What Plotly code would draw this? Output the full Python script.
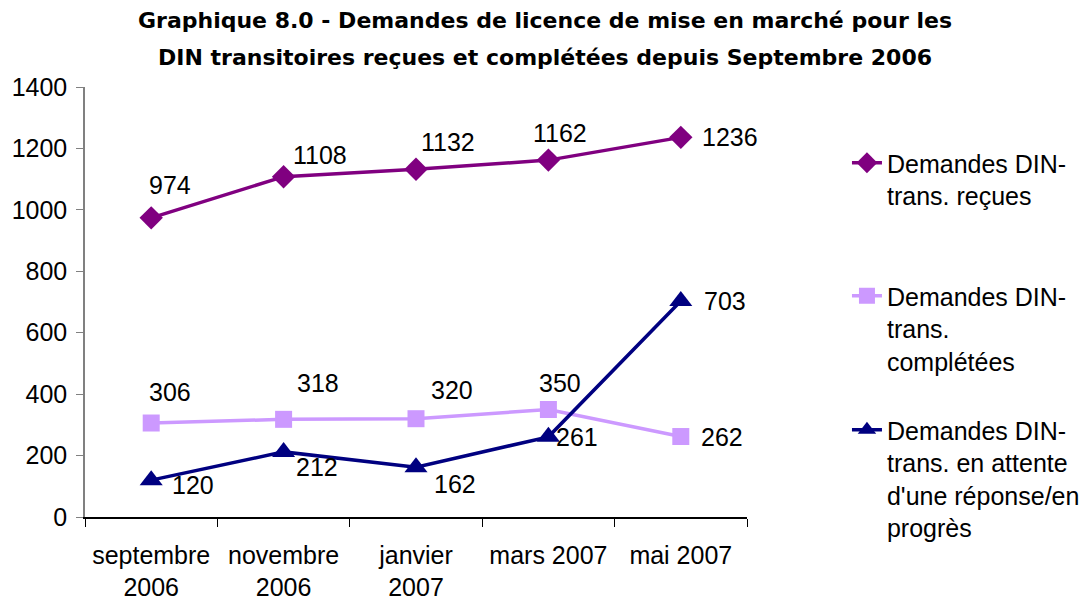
import plotly.graph_objects as go

months = ["septembre<br>2006", "novembre<br>2006", "janvier<br>2007", "mars 2007", "mai 2007"]
recues = [974, 1108, 1132, 1162, 1236]
completees = [306, 318, 320, 350, 262]
en_attente = [120, 212, 162, 261, 703]

names = [
    "Demandes DIN-<br>trans. reçues",
    "Demandes DIN-<br>trans.<br>complétées",
    "Demandes DIN-<br>trans. en attente<br>d'une réponse/en<br>progrès",
]

# label offsets (px) from each point, per series
offs_recues = [(19, -33), (36, -22), (32, -27), (12, -27), (49, 0)]
offs_compl = [(19, -31), (34, -36), (36, -29), (12, -27), (41, 0)]
offs_attente = [(42, 5), (33, 15), (39, 17), (29, 0), (44, 0)]

FONT = "Liberation Sans, Arial, sans-serif"
FS = 25
# page body adds ~8px offset, compensate in margins
L, T, R, B = 77, 79, 352.5, 92

fig = go.Figure()

series = [
    (recues, names[0], "#800080", "diamond", 18, "legend"),
    (completees, names[1], "#CC99FF", "square", 17, "legend2"),
    (en_attente, names[2], "#000080", "triangle-up", 20, "legend3"),
]
for vals, name, color, sym, size, leg in series:
    fig.add_trace(go.Scatter(
        x=months, y=vals, name=name, mode="lines+markers",
        line=dict(color=color, width=3.5),
        marker=dict(symbol=sym, size=size, color=color),
        legend=leg, showlegend=True))

for vals, offs in [(recues, offs_recues), (completees, offs_compl), (en_attente, offs_attente)]:
    for m, v, (dx, dy) in zip(months, vals, offs):
        fig.add_annotation(x=m, y=v, text=str(v), showarrow=False,
                           xshift=dx, yshift=-dy,
                           font=dict(family=FONT, size=FS, color="black"))

TFONT = dict(family="DejaVu Sans", size=22, color="black")
fig.add_annotation(xref="paper", yref="paper", x=(545 - 85) / 662.5, y=(517 - 21) / 430,
                   xanchor="center", yanchor="middle",
                   text="<b>Graphique 8.0 - Demandes de licence de mise en marché pour les</b>",
                   showarrow=False, font=TFONT)
fig.add_annotation(xref="paper", yref="paper", x=(545 - 85) / 662.5, y=(517 - 58) / 430,
                   xanchor="center", yanchor="middle",
                   text="<b>DIN transitoires reçues et complétées depuis Septembre 2006</b>",
                   showarrow=False, font=TFONT)

leg_common = dict(x=1.151, xanchor="left", yanchor="top", valign="top",
                  font=dict(family=FONT, size=FS, color="black"),
                  bgcolor="rgba(0,0,0,0)")
fig.update_layout(
    showlegend=True,
    legend=dict(y=(517 - 140) / 430, **leg_common),
    legend2=dict(y=(517 - 273) / 430, **leg_common),
    legend3=dict(y=(517 - 407) / 430, **leg_common),
)

fig.update_layout(
    width=1092, height=601,
    margin=dict(l=L, r=R, t=T, b=B, autoexpand=False),
    paper_bgcolor="white", plot_bgcolor="white",
    font=dict(family=FONT, size=FS, color="black"),
    xaxis=dict(type="category", tickson="boundaries", ticks="outside", ticklen=8,
               tickcolor="black", showline=True, linecolor="black", linewidth=1.5,
               showgrid=False, zeroline=False, range=[-0.5, 4.5], ticklabelstandoff=15,
               tickfont=dict(family=FONT, size=FS, color="black")),
    yaxis=dict(range=[0, 1400], dtick=200, ticks="outside", ticklen=7,
               tickcolor="#808080", showline=True, linecolor="#808080", linewidth=1.5,
               showgrid=False, zeroline=False, ticklabelstandoff=4,
               tickfont=dict(family=FONT, size=FS, color="black")),
)

fig.write_html("out.html")
